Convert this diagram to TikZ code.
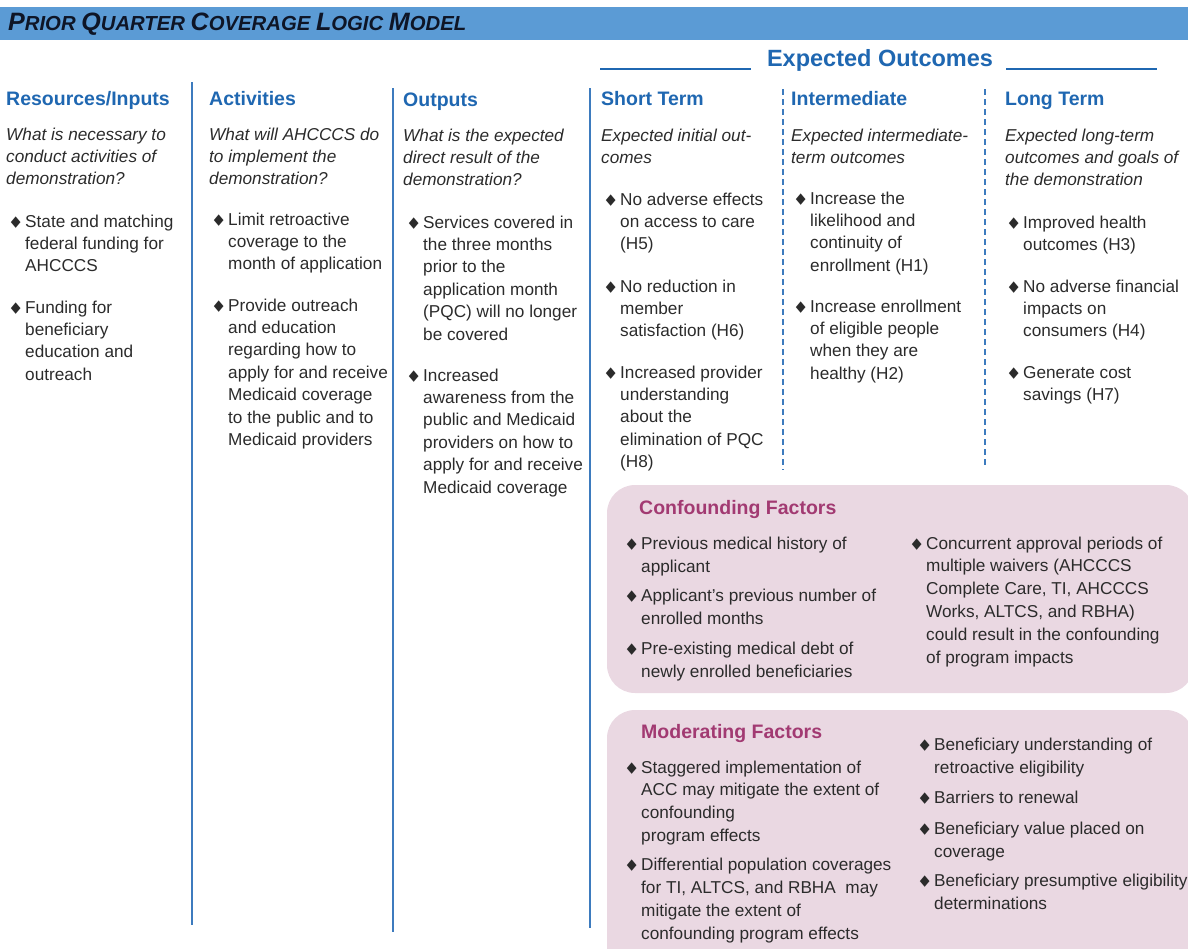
\documentclass[tikz,border=0pt]{standalone}
\usepackage{fontspec}
\usepackage{graphicx}
\setmainfont{Liberation Sans}
\newfontfamily\djv{DejaVu Sans}
\definecolor{barblue}{HTML}{5B9BD5}
\definecolor{hblue}{HTML}{1F67B1}
\definecolor{lblue}{HTML}{3D7BBE}
\definecolor{tgray}{HTML}{2B2B2B}
\definecolor{boxpink}{HTML}{EAD8E2}
\definecolor{pinkt}{HTML}{A23A72}
\definecolor{titlec}{HTML}{0E1526}
\newcommand\bodyfont{\fontsize{17.2}{22.4}\selectfont}
\newcommand\dia{\llap{\scalebox{0.85}[1]{\djv\fontsize{15}{15}\selectfont\raisebox{0.3pt}{◆}}\hspace{4.5pt}}}
\newcommand\SCap[2]{{\fontsize{23}{23}\selectfont #1}{\fontsize{18.6}{23}\selectfont #2}}
\newcommand\lns[1]{\begin{tabular}[t]{@{}l@{}}#1\end{tabular}}
\tikzset{
  hdr/.style={anchor=base west, inner sep=0pt, font=\fontsize{19.5}{22}\selectfont\bfseries, text=hblue},
  qtxt/.style={anchor=base west, inner sep=0pt, font=\bodyfont\itshape, text=tgray},
  itm/.style={anchor=base west, inner sep=0pt, font=\bodyfont, text=tgray},
  ftitle/.style={anchor=base west, inner sep=0pt, font=\fontsize{19.5}{22}\selectfont\bfseries, text=pinkt},
  solidline/.style={draw=lblue, line width=2.4pt},
  dashline/.style={draw=lblue, line width=1.6pt, dash pattern=on 6pt off 4pt},
  uline/.style={draw=hblue, line width=2.2pt}
}
\begin{document}
\begin{tikzpicture}[x=1pt,y=-1pt]
\useasboundingbox (0,0) rectangle (1188,948);
\clip (0,0) rectangle (1188,948);
% title bar
\fill[barblue] (0,7) rectangle (1188,40);
\node[anchor=west, inner sep=0pt, text=titlec] (title) at (8,24)
  {\resizebox{458pt}{!}{\fontsize{18.6}{23}\selectfont\bfseries\itshape\SCap{P}{RIOR} \SCap{Q}{UARTER} \SCap{C}{OVERAGE} \SCap{L}{OGIC} \SCap{M}{ODEL}}};
% expected outcomes
\node[anchor=base, inner sep=0pt, font=\fontsize{23.5}{26}\selectfont\bfseries, text=hblue] (eo) at (880,66.5) {Expected Outcomes};
\draw[uline] (600,69) -- (751,69);
\draw[uline] (1006,69) -- (1157,69);
% column separators
\draw[solidline] (192,82) -- (192,925);
\draw[solidline] (393,88) -- (393,932);
\draw[solidline] (590,88) -- (590,928);
\draw[dashline] (783,89) -- (783,470);
\draw[dashline] (985,89) -- (985,468);
% factor boxes
\fill[boxpink, rounded corners=28pt] (607,485) rectangle (1194,693);
\fill[boxpink, rounded corners=28pt] (607,710) rectangle (1194,975);
% column 1
\node[hdr] (h1) at (6,105) {Resources/Inputs};
\node[qtxt] (q1) at (6,140) {\lns{What is necessary to\\conduct activities of\\demonstration?}};
\node[itm] (c1a) at (25,227) {\lns{\dia State and matching\\federal funding for\\AHCCCS}};
\node[itm] (c1b) at (25,313) {\lns{\dia Funding for\\beneficiary\\education and\\outreach}};
% column 2
\node[hdr] (h2) at (209,105) {Activities};
\node[qtxt] (q2) at (209,140) {\lns{What will AHCCCS do\\to implement the\\demonstration?}};
\node[itm] (c2a) at (228,225) {\lns{\dia Limit retroactive\\coverage to the\\month of application}};
\node[itm] (c2b) at (228,311) {\lns{\dia Provide outreach\\and education\\regarding how to\\apply for and receive\\Medicaid coverage\\to the public and to\\Medicaid providers}};
% column 3
\node[hdr] (h3) at (403,106) {Outputs};
\node[qtxt] (q3) at (403,141) {\lns{What is the expected\\direct result of the\\demonstration?}};
\node[itm] (c3a) at (423,228) {\lns{\dia Services covered in\\the three months\\prior to the\\application month\\(PQC) will no longer\\be covered}};
\node[itm] (c3b) at (423,381) {\lns{\dia Increased\\awareness from the\\public and Medicaid\\providers on how to\\apply for and receive\\Medicaid coverage}};
% column 4
\node[hdr] (h4) at (601,105) {Short Term};
\node[qtxt] (q4) at (601,141) {\lns{Expected initial out-\\comes}};
\node[itm] (c4a) at (620,205) {\lns{\dia No adverse effects\\on access to care\\(H5)}};
\node[itm] (c4b) at (620,292) {\lns{\dia No reduction in\\member\\satisfaction (H6)}};
\node[itm] (c4c) at (620,378) {\lns{\dia Increased provider\\understanding\\about the\\elimination of PQC\\(H8)}};
% column 5
\node[hdr] (h5) at (791,105) {Intermediate};
\node[qtxt] (q5) at (791,141) {\lns{Expected intermediate-\\term outcomes}};
\node[itm] (c5a) at (810,204) {\lns{\dia Increase the\\likelihood and\\continuity of\\enrollment (H1)}};
\node[itm] (c5b) at (810,312) {\lns{\dia Increase enrollment\\of eligible people\\when they are\\healthy (H2)}};
% column 6
\node[hdr] (h6) at (1005,105) {Long Term};
\node[qtxt] (q6) at (1005,141) {\lns{Expected long-term\\outcomes and goals of\\the demonstration}};
\node[itm] (c6a) at (1023,228) {\lns{\dia Improved health\\outcomes (H3)}};
\node[itm] (c6b) at (1023,292) {\lns{\dia No adverse financial\\impacts on\\consumers (H4)}};
\node[itm] (c6c) at (1023,378) {\lns{\dia Generate cost\\savings (H7)}};
% confounding
\node[ftitle] (cf) at (639,514) {Confounding Factors};
\node[itm, font=\fontsize{17.2}{23.5}\selectfont] (cfa) at (641,549) {\lns{\dia Previous medical history of\\applicant}};
\node[itm, font=\fontsize{17.2}{23.5}\selectfont] (cfb) at (641,601) {\lns{\dia Applicant's previous number of\\enrolled months}};
\node[itm, font=\fontsize{17.2}{23.5}\selectfont] (cfc) at (641,654) {\lns{\dia Pre-existing medical debt of\\newly enrolled beneficiaries}};
\node[itm, font=\fontsize{17.2}{22.8}\selectfont] (cfd) at (926,549) {\lns{\dia Concurrent approval periods of\\multiple waivers (AHCCCS\\Complete Care, TI, AHCCCS\\Works, ALTCS, and RBHA)\\could result in the confounding\\of program impacts}};
% moderating
\node[ftitle] (mf) at (641,738) {Moderating Factors};
\node[itm, font=\fontsize{17.2}{22.7}\selectfont] (mfa) at (641,773) {\lns{\dia Staggered implementation of\\ACC may mitigate the extent of\\confounding\\program effects}};
\node[itm, font=\fontsize{17.2}{23}\selectfont] (mfb) at (641,870) {\lns{\dia Differential population coverages\\for TI, ALTCS, and RBHA\ \ may\\mitigate the extent of\\confounding program effects}};
\node[itm, font=\fontsize{17.2}{23.5}\selectfont] (mfc) at (934,750) {\lns{\dia Beneficiary understanding of\\retroactive eligibility}};
\node[itm] (mfd) at (934,803) {\lns{\dia Barriers to renewal}};
\node[itm, font=\fontsize{17.2}{23}\selectfont] (mfe) at (934,834) {\lns{\dia Beneficiary value placed on\\coverage}};
\node[itm, font=\fontsize{17.2}{23}\selectfont] (mff) at (934,886) {\lns{\dia Beneficiary presumptive eligibility\\determinations}};
\end{tikzpicture}
\end{document}
